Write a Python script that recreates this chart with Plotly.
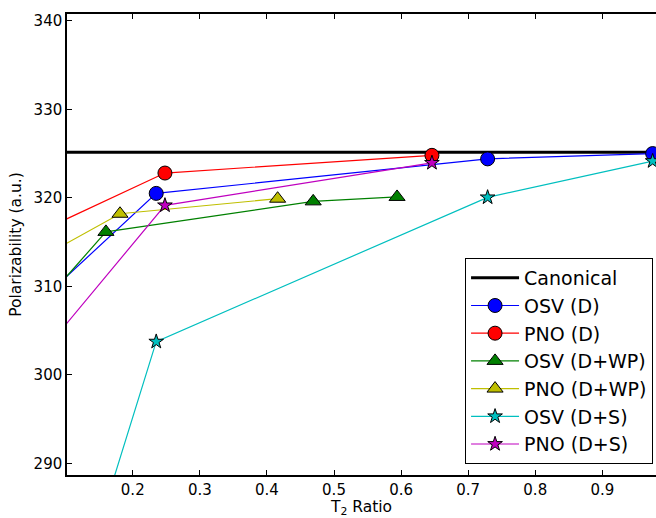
import plotly.graph_objects as go

# ---- data ----
canonical_value = 325.15
x_range = [0.102, 0.98]
y_range = [288.68, 340.77]

osv_d_x = [0.05, 0.235, 0.729, 0.975]
osv_d_y = [307.5, 320.5, 324.4, 325.0]

pno_d_x = [0.05, 0.248, 0.646]
pno_d_y = [315.8, 322.8, 324.8]

osv_dwp_x = [0.05, 0.160, 0.469, 0.594]
osv_dwp_y = [306.7, 316.15, 319.6, 320.1]

pno_dwp_x = [0.05, 0.181, 0.416]
pno_dwp_y = [312.7, 318.2, 319.9]

osv_ds_x = [0.05, 0.235, 0.729, 0.975]
osv_ds_y = [258.6, 303.75, 320.05, 324.15]

pno_ds_x = [0.05, 0.248, 0.646]
pno_ds_y = [301.1, 319.15, 323.95]

x_ticks = [0.2, 0.3, 0.4, 0.5, 0.6, 0.7, 0.8, 0.9]
y_ticks = [290, 300, 310, 320, 330, 340]

FONT = "DejaVu Sans"

fig = go.Figure()

fig.add_trace(go.Scatter(
    x=[x_range[0] - 0.05, x_range[1] + 0.05], y=[canonical_value, canonical_value],
    mode="lines", name="Canonical", line=dict(color="black", width=3)))

series = [
    ("OSV (D)", osv_d_x, osv_d_y, "rgb(0,0,255)", "circle", 14),
    ("PNO (D)", pno_d_x, pno_d_y, "rgb(255,0,0)", "circle", 14),
    ("OSV (D+WP)", osv_dwp_x, osv_dwp_y, "rgb(0,128,0)", "triangle-up", 14),
    ("PNO (D+WP)", pno_dwp_x, pno_dwp_y, "rgb(191,191,0)", "triangle-up", 14),
    ("OSV (D+S)", osv_ds_x, osv_ds_y, "rgb(0,191,191)", "star", 11),
    ("PNO (D+S)", pno_ds_x, pno_ds_y, "rgb(191,0,191)", "star", 11),
]
for name, xs, ys, col, sym, sz in series:
    fig.add_trace(go.Scatter(
        x=xs, y=ys, mode="lines+markers", name=name,
        line=dict(color=col, width=1.2),
        marker=dict(symbol=sym, size=sz, color=col,
                    line=dict(color="black", width=1)),
        cliponaxis=True))

fig.update_layout(
    width=656, height=518,
    margin=dict(l=67, r=0, t=14, b=43),
    paper_bgcolor="white", plot_bgcolor="white",
    font=dict(family=FONT, size=15, color="black"),
    showlegend=True,
    legend=dict(x=0.995, y=0.024, xanchor="right", yanchor="bottom",
                bordercolor="black", borderwidth=1, bgcolor="white",
                font=dict(family=FONT, size=19), tracegroupgap=0,
                itemwidth=48),
)
fig.update_xaxes(
    range=x_range, tickvals=x_ticks, ticktext=[f"{v:.1f}" for v in x_ticks],
    showgrid=False, zeroline=False, showline=True, linecolor="black", linewidth=1.5,
    ticks="inside", ticklen=5, tickcolor="black", mirror="ticks",
    tickfont=dict(size=15),
    title=dict(text="T<sub>2</sub> Ratio", font=dict(size=15.5), standoff=4))
fig.update_yaxes(
    range=y_range, tickvals=y_ticks, ticktext=[str(v) for v in y_ticks],
    showgrid=False, zeroline=False, showline=True, linecolor="black", linewidth=1.5,
    ticks="inside", ticklen=5, tickcolor="black",
    tickfont=dict(size=15),
    title=dict(text="Polarizability (a.u.)", font=dict(size=15.5), standoff=8))

fig.write_html("out.html")
